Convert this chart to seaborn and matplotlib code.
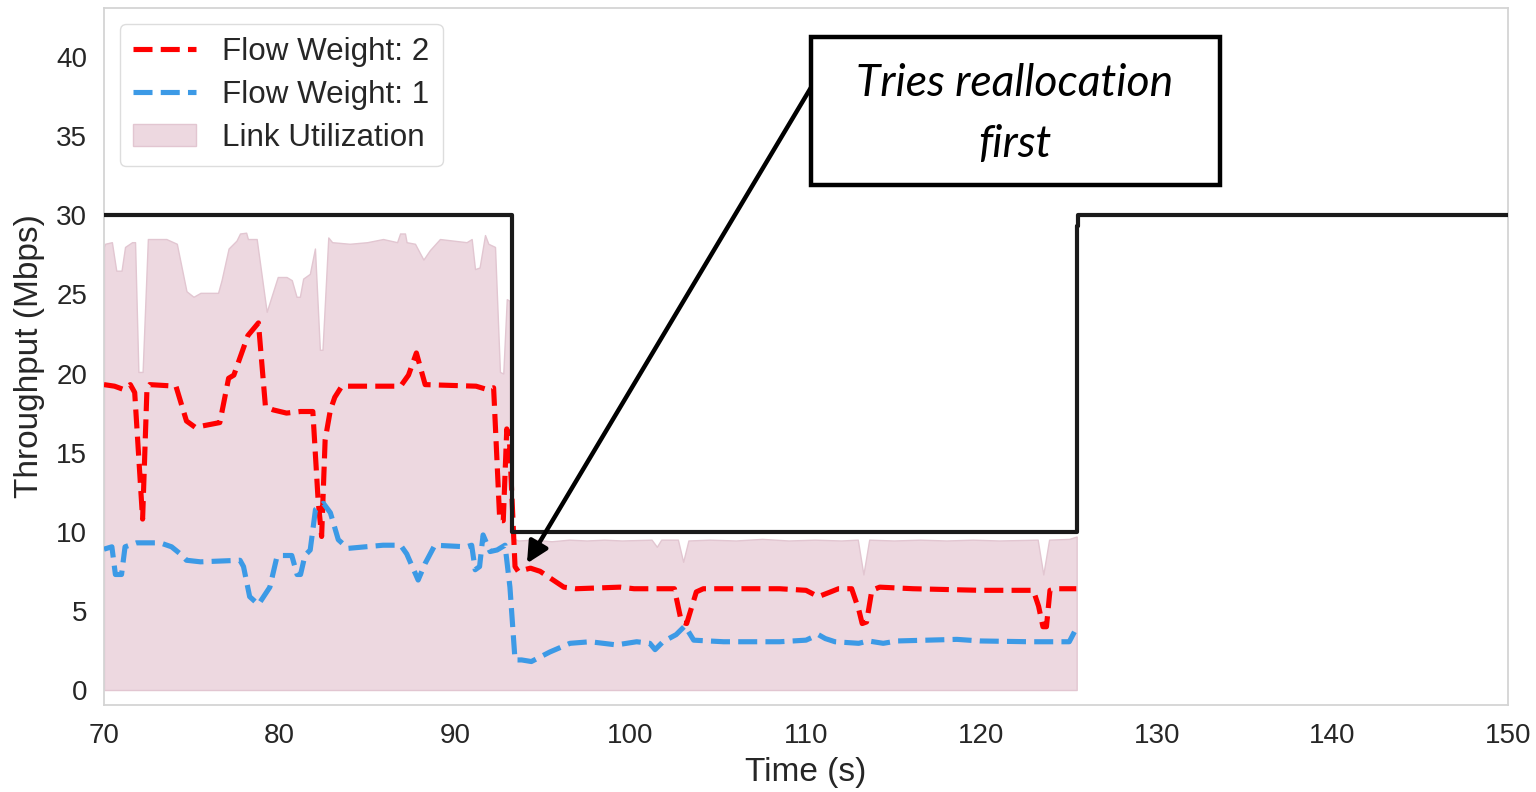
import matplotlib
matplotlib.use("Agg")
import matplotlib.pyplot as plt
from matplotlib.patches import Rectangle
import seaborn as sns
import pandas as pd

# Flow weight 2 throughput (Mbps) over time (s)
w2_time = [70.0, 70.6, 71.1, 71.5, 71.75, 72.2, 72.45, 72.6, 74.1, 74.7, 75.2, 76.6, 77.1, 77.4,
           77.75, 78.2, 78.8, 79.2, 79.65, 80.4, 81.2, 81.9, 82.2, 82.4, 82.6, 82.9, 83.15, 83.55,
           86.9, 87.35, 87.8, 88.3, 91.2, 91.8, 92.2, 92.55, 92.75, 92.95, 93.1, 93.42, 93.6, 94.3,
           94.85, 96.2, 96.9, 99.4, 100.2, 102.5, 102.9, 103.2, 103.75, 104.15, 106.8, 108.5, 110.0,
           110.7, 111.4, 111.85, 112.6, 113.0, 113.2, 113.45, 113.75, 114.2, 116.1, 119.9, 122.95,
           123.25, 123.5, 123.7, 123.9, 124.3, 125.4]
w2_mbps = [19.3, 19.2, 19.0, 19.3, 18.8, 10.8, 19.1, 19.3, 19.2, 17.0, 16.6, 16.9, 19.7, 19.9,
           21.0, 22.4, 23.2, 17.9, 17.7, 17.5, 17.6, 17.6, 12.0, 9.7, 15.8, 17.7, 18.5, 19.2,
           19.2, 19.9, 21.3, 19.3, 19.2, 19.0, 19.1, 10.7, 10.7, 16.5, 15.8, 7.8, 7.5, 7.7,
           7.5, 6.5, 6.4, 6.5, 6.4, 6.4, 4.3, 4.2, 6.2, 6.4, 6.4, 6.4, 6.3,
           5.9, 6.2, 6.4, 6.4, 5.1, 4.2, 4.3, 6.3, 6.5, 6.4, 6.3, 6.3,
           5.3, 4.0, 4.0, 6.3, 6.4, 6.4]

# Flow weight 1 throughput (Mbps) over time (s)
w1_time = [70.0, 70.45, 70.65, 71.0, 71.2, 71.85, 73.2, 73.85, 74.35, 74.7, 75.5, 77.75, 77.95,
           78.3, 78.8, 79.45, 79.85, 80.1, 80.7, 81.0, 81.2, 81.45, 81.75, 82.05, 82.5, 82.9,
           83.35, 83.9, 85.9, 86.9, 87.25, 87.9, 88.3, 88.85, 90.65, 90.95, 91.15, 91.4, 91.6,
           92.0, 92.4, 92.85, 93.13, 93.42, 93.8, 94.35, 95.4, 96.55, 97.7, 99.2, 100.35, 101.1,
           101.4, 101.85, 102.6, 103.1, 103.6, 105.3, 108.5, 110.0, 110.7, 111.1, 111.65, 113.0,
           113.55, 114.4, 115.2, 118.6, 119.9, 122.75, 124.3, 125.0, 125.4]
w1_mbps = [8.9, 9.05, 7.3, 7.3, 9.05, 9.3, 9.3, 9.05, 8.6, 8.2, 8.1, 8.2, 7.8,
           5.9, 5.4, 6.5, 8.4, 8.5, 8.5, 7.3, 7.3, 8.5, 8.85, 11.4, 11.8, 11.2,
           9.5, 8.95, 9.15, 9.15, 8.6, 6.95, 8.0, 9.15, 9.05, 9.15, 7.6, 7.8, 9.8,
           8.75, 8.85, 9.15, 6.5, 1.9, 1.9, 1.8, 2.4, 2.95, 3.05, 2.85, 3.05, 2.95,
           2.55, 3.05, 3.5, 4.05, 3.15, 3.05, 3.05, 3.15, 3.5, 3.25, 3.05, 2.95,
           3.1, 2.95, 3.1, 3.2, 3.1, 3.05, 3.05, 3.05, 3.9]

# Total link utilization (Mbps)
util_time = [70.0, 70.06, 70.45, 70.7, 71.0, 71.2, 71.6, 71.77, 71.96, 72.2, 72.5, 73.55, 74.15,
             74.7, 75.1, 75.5, 76.5, 76.7, 77.1, 77.55, 77.75, 78.1, 78.2, 78.7, 79.27, 79.9,
             80.4, 80.7, 80.97, 81.16, 81.35, 81.73, 82.02, 82.3, 82.45, 82.78, 83.0, 84.0, 85.0,
             85.9, 86.7, 86.87, 87.15, 87.24, 87.72, 88.2, 88.57, 89.14, 90.66, 90.95, 91.14,
             91.4, 91.71, 91.9, 92.28, 92.56, 92.75, 92.95, 93.1, 93.22, 93.6, 94.5, 95.5, 96.5,
             97.5, 98.5, 99.5, 101.2, 101.5, 101.75, 102.7, 103.0, 103.3, 104.5, 106.0, 107.5,
             109.0, 110.5, 112.0, 112.95, 113.27, 113.6, 115.0, 116.5, 118.0, 119.5, 121.0,
             123.2, 123.52, 123.85, 125.0, 125.42]
util_mbps = [28.0, 28.2, 28.3, 26.5, 26.5, 28.0, 28.3, 28.3, 20.1, 20.1, 28.5, 28.5, 28.2,
             25.2, 24.85, 25.1, 25.1, 25.9, 27.9, 28.4, 28.85, 28.9, 28.5, 28.5, 23.9, 26.1,
             26.1, 25.9, 24.85, 24.85, 26.0, 26.3, 27.9, 21.5, 21.5, 28.6, 28.3, 28.2, 28.3,
             28.5, 28.3, 28.85, 28.85, 28.3, 28.2, 27.2, 27.8, 28.5, 28.3, 28.5, 26.6,
             26.7, 28.75, 28.2, 28.0, 20.1, 20.0, 24.7, 24.6, 9.6, 9.45, 9.5, 9.4, 9.5,
             9.45, 9.5, 9.45, 9.5, 9.05, 9.5, 9.5, 8.1, 9.45, 9.5, 9.45, 9.55,
             9.45, 9.5, 9.45, 9.5, 7.3, 9.5, 9.45, 9.5, 9.45, 9.5, 9.45,
             9.5, 7.3, 9.5, 9.55, 9.7]

# Link capacity (Mbps), piecewise constant
cap_time = [70.0, 93.27, 125.42, 125.5, 150.0]
cap_mbps = [30.0, 10.0, 29.3, 30.0, 30.0]

x_ticks = [70, 80, 90, 100, 110, 120, 130, 140, 150]
y_ticks = [0, 5, 10, 15, 20, 25, 30, 35, 40]

sns.set_theme(style="whitegrid")
plt.rcParams["font.family"] = ["Liberation Sans", "DejaVu Sans"]

fig = plt.figure(figsize=(15.36, 7.92), dpi=100)
ax = fig.add_axes([0.0677, 0.1098, 0.9141, 0.8801])
ax.grid(False)

w2 = pd.DataFrame({"t": w2_time, "v": w2_mbps})
w1 = pd.DataFrame({"t": w1_time, "v": w1_mbps})
cap = pd.DataFrame({"t": cap_time, "v": cap_mbps})

ax.fill_between(util_time, util_mbps, 0, facecolor="#edd8e0", edgecolor="#e2c6d1",
                linewidth=1.0, label="Link Utilization", zorder=1)
sns.lineplot(data=w2, x="t", y="v", ax=ax, color="#ff0000", linestyle="--", linewidth=3.7,
             estimator=None, sort=False, label="Flow Weight: 2", zorder=3)
sns.lineplot(data=w1, x="t", y="v", ax=ax, color="#3c9ae6", linestyle="--", linewidth=3.7,
             estimator=None, sort=False, label="Flow Weight: 1", zorder=3)
sns.lineplot(data=cap, x="t", y="v", ax=ax, color="#1a1a1a", linewidth=3.0,
             drawstyle="steps-post", estimator=None, sort=False, zorder=4, legend=False)

ax.set_xlim(70, 150)
ax.set_ylim(-0.95, 43.1)
ax.set_xticks(x_ticks)
ax.set_yticks(y_ticks)
ax.tick_params(axis="both", labelsize=20, length=0, colors="#262626")
ax.tick_params(axis="y", pad=12)
ax.tick_params(axis="x", pad=13)
ax.set_xlabel("Time (s)", fontsize=24, color="#262626", labelpad=6)
ax.set_ylabel("Throughput (Mbps)", fontsize=24, color="#262626", labelpad=8)
for s in ax.spines.values():
    s.set_color("#d4d4d4")
    s.set_linewidth(1.3)

handles, labels = ax.get_legend_handles_labels()
order = [labels.index("Flow Weight: 2"), labels.index("Flow Weight: 1"),
         labels.index("Link Utilization")]
ax.legend([handles[i] for i in order], [labels[i] for i in order], loc="upper left",
          fontsize=22.6, handlelength=2.0, handletextpad=0.85, labelspacing=0.42,
          borderpad=0.42, borderaxespad=0.5, frameon=True, framealpha=1.0,
          edgecolor="#dddddd")

# Callout box with arrow pointing at the reallocation step
ax.annotate("", xy=(94.1, 8.0), xytext=(110.35, 38.2),
            arrowprops=dict(arrowstyle="-|>", color="black", lw=3.2, mutation_scale=32,
                            shrinkA=0, shrinkB=0), zorder=5)
ax.add_patch(Rectangle((110.28, 31.9), 23.3, 9.36, facecolor="white", edgecolor="black",
                       linewidth=3.2, zorder=6))
ax.text(121.9, 36.4, "Tries reallocation\nfirst", ha="center", va="center", fontsize=32,
        family=["Lato", "DejaVu Sans"], style="italic", weight="normal", color="black",
        linespacing=1.62, zorder=7)

fig.savefig("out.png", dpi=100)
